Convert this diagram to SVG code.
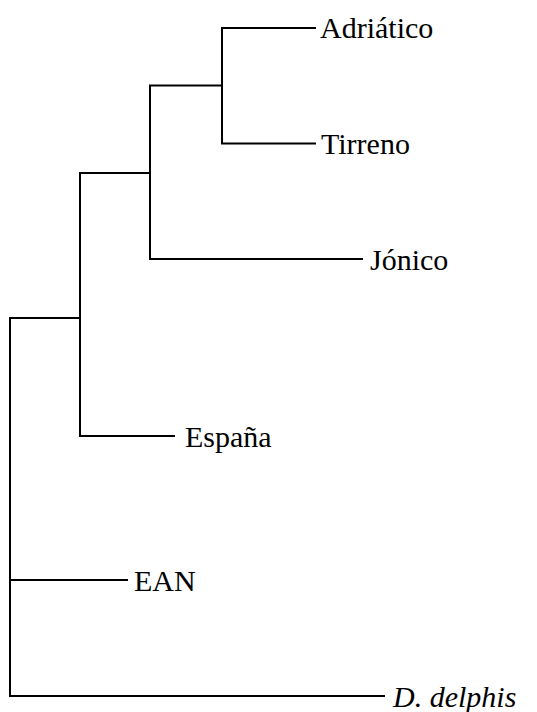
<svg xmlns="http://www.w3.org/2000/svg" width="537" height="712" viewBox="0 0 537 712">
<style>
.branch{fill:none;stroke:#000;stroke-width:2;stroke-linecap:square}
.lbl{font-family:"Liberation Serif",serif !important;font-size:30px;fill:#000}
.it{font-style:italic}
</style>
<rect width="537" height="712" fill="#fff"/>
<g id="connectors">
<path class="branch" d="M10,318 V696 M10,318 H80 M10,580 H127 M10,696 H384"/>
<path class="branch" d="M80,173 V436 M80,173 H150 M80,436 H174"/>
<path class="branch" d="M150,85.5 V259 M150,85.5 H222 M150,259 H362"/>
<path class="branch" d="M222,28 V143.5 M222,28 H315 M222,143.5 H315"/>
</g>
<g id="n-adriatico"><text class="lbl" style="font-family:'Liberation Serif',serif" x="320" y="38">Adriático</text></g>
<g id="n-tirreno"><text class="lbl" style="font-family:'Liberation Serif',serif" x="321" y="154">Tirreno</text></g>
<g id="n-jonico"><text class="lbl" style="font-family:'Liberation Serif',serif" x="370" y="270">Jónico</text></g>
<g id="n-espana"><text class="lbl" style="font-family:'Liberation Serif',serif" x="185" y="447">España</text></g>
<g id="n-ean"><text class="lbl" style="font-family:'Liberation Serif',serif" x="134" y="591">EAN</text></g>
<g id="n-ddelphis"><text class="lbl it" style="font-family:'Liberation Serif',serif" x="393" y="707">D. delphis</text></g>
</svg>
